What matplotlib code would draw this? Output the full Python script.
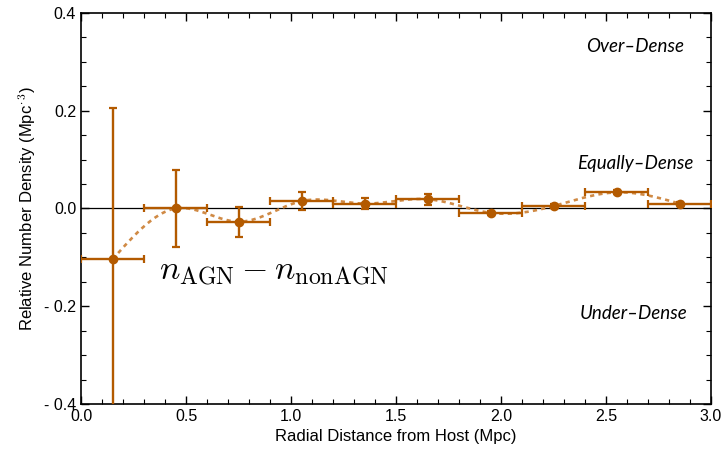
import numpy as np
import matplotlib
matplotlib.use("Agg")
import matplotlib.pyplot as plt
from matplotlib.ticker import MultipleLocator, FixedLocator, FixedFormatter

# Data
x_centers = [0.15, 0.45, 0.75, 1.05, 1.35, 1.65, 1.95, 2.25, 2.55, 2.85]
x_halfwidth = [0.15, 0.15, 0.15, 0.15, 0.15, 0.15, 0.15, 0.15, 0.15, 0.15]
rel_density = [-0.104, 0.0, -0.027, 0.015, 0.010, 0.019, -0.009, 0.005, 0.033, 0.010]
density_err = [0.31, 0.078, 0.031, 0.018, 0.012, 0.011, 0.004, 0.004, 0.004, 0.003]
yticks = [-0.4, -0.2, 0.0, 0.2, 0.4]
ytick_labels = ["- 0.4", "- 0.2", "0.0", "0.2", "0.4"]
xticks = [0.0, 0.5, 1.0, 1.5, 2.0, 2.5, 3.0]
xtick_labels = ["0.0", "0.5", "1.0", "1.5", "2.0", "2.5", "3.0"]


def natural_cubic_spline(x, y, xs):
    x = np.asarray(x, float); y = np.asarray(y, float)
    n = len(x)
    h = np.diff(x)
    A = np.zeros((n, n)); b = np.zeros(n)
    A[0, 0] = 1; A[-1, -1] = 1
    for i in range(1, n - 1):
        A[i, i - 1] = h[i - 1]
        A[i, i] = 2 * (h[i - 1] + h[i])
        A[i, i + 1] = h[i]
        b[i] = 3 * ((y[i + 1] - y[i]) / h[i] - (y[i] - y[i - 1]) / h[i - 1])
    c = np.linalg.solve(A, b)
    out = np.empty_like(xs)
    for k, xv in enumerate(xs):
        i = min(max(np.searchsorted(x, xv) - 1, 0), n - 2)
        dx = xv - x[i]
        bi = (y[i + 1] - y[i]) / h[i] - h[i] * (2 * c[i] + c[i + 1]) / 3
        di = (c[i + 1] - c[i]) / (3 * h[i])
        out[k] = y[i] + bi * dx + c[i] * dx ** 2 + di * dx ** 3
    return out


plt.rcParams['font.family'] = ['Liberation Sans', 'DejaVu Sans']
plt.rcParams['mathtext.fontset'] = 'cm'

fig = plt.figure(figsize=(7.26, 4.59), dpi=100)
ax = fig.add_axes([0.1116, 0.1198, 0.8678, 0.852])

color = '#b35a00'
xs = np.linspace(x_centers[0], x_centers[-1], 400)
ys = natural_cubic_spline(x_centers, rel_density, xs)
ax.plot(xs, ys, linestyle=(0, (1.6, 1.6)), color='#d08a45', lw=1.9, zorder=2)

ax.axhline(0, color='black', lw=0.9, zorder=1)

ax.errorbar(x_centers, rel_density, xerr=x_halfwidth, yerr=density_err,
            fmt='o', color=color, ms=6, elinewidth=1.7, capsize=3,
            capthick=1.6, zorder=3)

ax.set_xlim(0, 3)
ax.set_ylim(-0.4, 0.4)
ax.xaxis.set_major_locator(FixedLocator(xticks))
ax.xaxis.set_major_formatter(FixedFormatter(xtick_labels))
ax.xaxis.set_minor_locator(MultipleLocator(0.1))
ax.yaxis.set_major_locator(FixedLocator(yticks))
ax.yaxis.set_major_formatter(FixedFormatter(ytick_labels))
ax.yaxis.set_minor_locator(MultipleLocator(0.05))
ax.tick_params(which='both', direction='in', top=True, right=True, labelsize=11.5)
ax.tick_params(which='major', length=6, width=1)
ax.tick_params(which='minor', length=3.5, width=0.8)
for s in ax.spines.values():
    s.set_linewidth(1.2)

ax.set_xlabel('Radial Distance from Host (Mpc)', fontsize=12)
ax.set_ylabel(r'Relative Number Density (Mpc$^{\cdot\,3}$)', fontsize=12)

ax.text(0.37, -0.13, r'$n_{\rm AGN} - n_{\rm nonAGN}$', fontsize=24.5, va='center', ha='left')
lab_kw = dict(fontsize=13.5, style='italic', ha='center', va='center', family=['Lato', 'DejaVu Sans'])
ax.text(2.64, 0.331, 'Over–Dense', **lab_kw)
ax.text(2.64, 0.092, 'Equally–Dense', **lab_kw)
ax.text(2.63, -0.215, 'Under–Dense', **lab_kw)

fig.savefig('out.png', dpi=100)
